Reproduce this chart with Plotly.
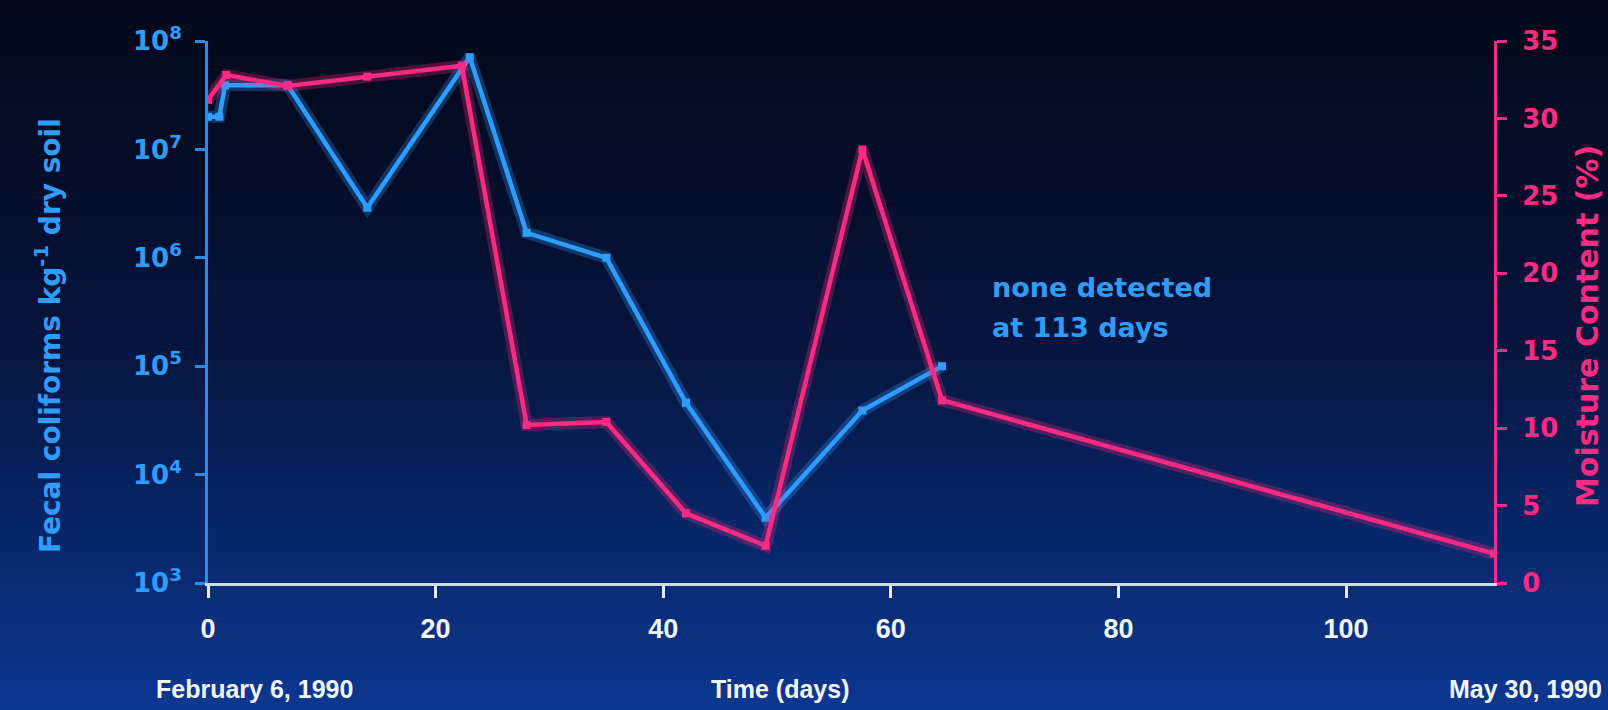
import base64
import struct
import zlib

import plotly.graph_objects as go

# ---- data -------------------------------------------------------------
days_fc = [0, 1, 1.5, 7, 14, 23, 28, 35, 42, 49, 57.5, 64.5]
fecal_coliforms = [2.0e7, 2.0e7, 3.9e7, 3.9e7, 2.9e6, 7.1e7, 1.7e6, 1.0e6,
                   4.6e4, 4.0e3, 3.9e4, 1.0e5]

days_mc = [0, 1.6, 7, 14, 22.3, 28, 35, 42, 49, 57.5, 64.5, 113]
moisture = [31.2, 32.8, 32.1, 32.7, 33.4, 10.2, 10.4, 4.5, 2.4, 28.0, 11.8, 1.9]

x_ticks = [0, 20, 40, 60, 80, 100]
y_log_ticks = [1e3, 1e4, 1e5, 1e6, 1e7, 1e8]
y_log_labels = ["10<sup>3</sup>", "10<sup>4</sup>", "10<sup>5</sup>",
                "10<sup>6</sup>", "10<sup>7</sup>", "10<sup>8</sup>"]
moisture_ticks = [0, 5, 10, 15, 20, 25, 30, 35]

# ---- page geometry ----------------------------------------------------
W, H = 1608, 710
L, R, T, B = 208, 114, 41, 127
PW, PH = W - L - R, H - T - B

BLUE = "#2f9dff"
BLUE_AXIS = "#2d8ae8"
PINK = "#ff2a82"
PINK_AXIS = "#e8318c"
WHITE = "#f2f6fc"


def px_x(px):
    return (px - L) / PW


def px_y(py):
    return (H - B - py) / PH


# ---- vertical background gradient as a small PNG ----------------------
def gradient_png(height, stops):
    rows = []
    for i in range(height):
        t = i / (height - 1)
        for j in range(len(stops) - 1):
            t0, c0 = stops[j]
            t1, c1 = stops[j + 1]
            if t0 <= t <= t1:
                f = (t - t0) / (t1 - t0)
                rgb = [round(a + (b - a) * f) for a, b in zip(c0, c1)]
                break
        rows.append(b"\x00" + bytes(rgb))
    raw = b"".join(rows)

    def chunk(tag, data):
        return (struct.pack(">I", len(data)) + tag + data
                + struct.pack(">I", zlib.crc32(tag + data) & 0xFFFFFFFF))

    png = (b"\x89PNG\r\n\x1a\n"
           + chunk(b"IHDR", struct.pack(">IIBBBBB", 1, height, 8, 2, 0, 0, 0))
           + chunk(b"IDAT", zlib.compress(raw, 9))
           + chunk(b"IEND", b""))
    return "data:image/png;base64," + base64.b64encode(png).decode()


bg_src = gradient_png(256, [
    (0.00, (3, 8, 26)),
    (0.25, (5, 13, 40)),
    (0.50, (6, 22, 64)),
    (0.75, (8, 38, 104)),
    (1.00, (11, 56, 144)),
])

fig = go.Figure()

# soft glow under each line
fig.add_trace(go.Scatter(x=days_mc, y=moisture, yaxis="y2", mode="lines",
                         line=dict(color="rgba(255,42,130,0.28)", width=12),
                         hoverinfo="skip", showlegend=False))
fig.add_trace(go.Scatter(x=days_fc, y=fecal_coliforms, mode="lines",
                         line=dict(color="rgba(47,157,255,0.28)", width=12),
                         hoverinfo="skip", showlegend=False))

# moisture content (right axis)
fig.add_trace(go.Scatter(x=days_mc, y=moisture, yaxis="y2", mode="lines+markers",
                         line=dict(color=PINK, width=4.5),
                         marker=dict(color=PINK, size=8, symbol="square"),
                         name="Moisture Content (%)", showlegend=False))
# fecal coliforms (left log axis)
fig.add_trace(go.Scatter(x=days_fc, y=fecal_coliforms, mode="lines+markers",
                         line=dict(color=BLUE, width=4.5),
                         marker=dict(color=BLUE, size=8, symbol="square"),
                         name="Fecal coliforms", showlegend=False))

annotations = [
    dict(text="Fecal coliforms kg<sup>-1</sup> dry soil", textangle=-90,
         x=px_x(48), y=px_y(336), xref="paper", yref="paper",
         xanchor="center", yanchor="middle", showarrow=False,
         font=dict(family="DejaVu Sans", size=28, color=BLUE, weight="bold")),
    dict(text="Moisture Content (%)", textangle=-90,
         x=px_x(1587), y=px_y(326), xref="paper", yref="paper",
         xanchor="center", yanchor="middle", showarrow=False,
         font=dict(family="DejaVu Sans", size=30, color=PINK, weight="bold")),
    dict(text="none detected", x=px_x(990), y=px_y(287), xref="paper", yref="paper",
         xanchor="left", yanchor="middle", showarrow=False,
         font=dict(family="DejaVu Sans", size=27, color=BLUE, weight="bold")),
    dict(text="at 113 days", x=px_x(990), y=px_y(327), xref="paper", yref="paper",
         xanchor="left", yanchor="middle", showarrow=False,
         font=dict(family="DejaVu Sans", size=27, color=BLUE, weight="bold")),
]
bottom_font = dict(family="Liberation Sans", size=25, color=WHITE, weight="bold")
for text, cx, anchor in [("February 6, 1990", 154, "left"),
                         ("Time (days)", 780, "center"),
                         ("May 30, 1990", 1604, "right")]:
    annotations.append(dict(text=text, x=px_x(cx), y=px_y(689), xref="paper",
                            yref="paper", xanchor=anchor, yanchor="middle",
                            showarrow=False, font=bottom_font))

fig.update_layout(
    width=W, height=H,
    margin=dict(l=L, r=R, t=T, b=B),
    paper_bgcolor="#06163f",
    plot_bgcolor="rgba(0,0,0,0)",
    showlegend=False,
    images=[dict(source=bg_src, xref="paper", yref="paper",
                 x=px_x(0), y=px_y(0), sizex=W / PW, sizey=H / PH,
                 xanchor="left", yanchor="top", sizing="stretch",
                 layer="below")],
    xaxis=dict(range=[0, 113], tickvals=x_ticks, showgrid=False, zeroline=False,
               showline=True, linecolor="#cddbef", linewidth=3,
               ticks="outside", ticklen=12, tickwidth=3, tickcolor="#e6edf8",
               ticklabelstandoff=8,
               tickfont=dict(family="Liberation Sans", size=27, color=WHITE,
                             weight="bold")),
    yaxis=dict(type="log", range=[3, 8], tickvals=y_log_ticks,
               ticktext=y_log_labels, showgrid=False, zeroline=False,
               showline=True, linecolor=BLUE_AXIS, linewidth=3,
               ticks="outside", ticklen=10, tickwidth=3, tickcolor=BLUE_AXIS,
               ticklabelstandoff=8,
               tickfont=dict(family="DejaVu Sans", size=26, color=BLUE,
                             weight="bold")),
    yaxis2=dict(overlaying="y", side="right", range=[0, 35],
                tickvals=moisture_ticks, showgrid=False, zeroline=False,
                showline=True, linecolor=PINK_AXIS, linewidth=3,
                ticks="outside", ticklen=10, tickwidth=3, tickcolor=PINK_AXIS,
                ticklabelstandoff=10,
                tickfont=dict(family="DejaVu Sans", size=26, color=PINK,
                              weight="bold")),
    annotations=annotations,
)

fig.write_html("out.html")
